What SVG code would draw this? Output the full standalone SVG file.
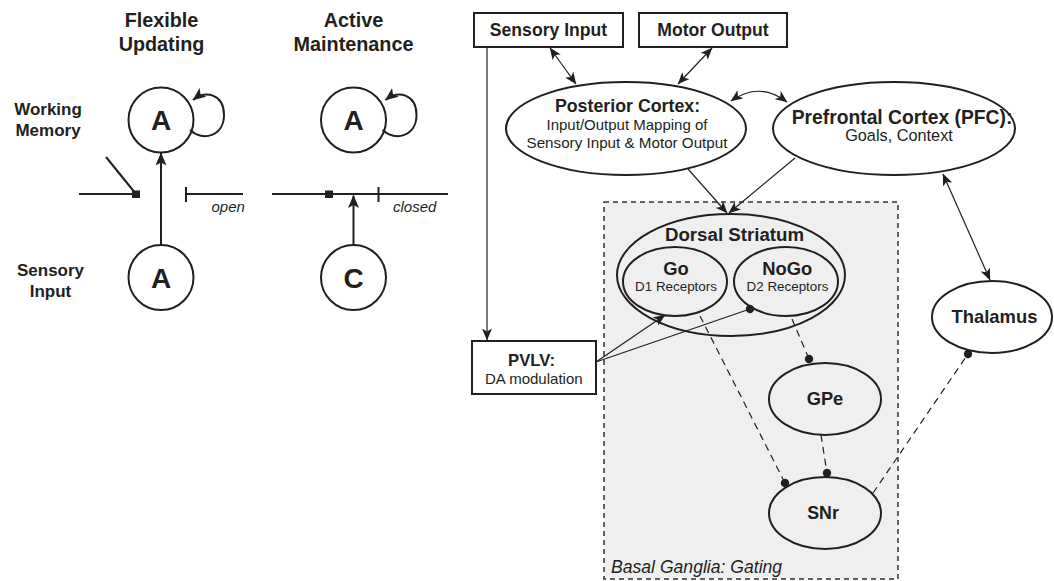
<svg xmlns="http://www.w3.org/2000/svg" width="1054" height="581" viewBox="0 0 1054 581">
<style>
  text { font-family: "Liberation Sans", Arial, Helvetica, sans-serif; fill: #231f20; }
  .title { font-size: 19.8px; font-weight: bold; text-anchor: middle; }
  .side { font-size: 17px; font-weight: bold; text-anchor: middle; }
  .letter { font-size: 28px; font-weight: bold; text-anchor: middle; }
  .gate { font-size: 15px; font-style: italic; }
  .hd { font-size: 17.6px; font-weight: bold; text-anchor: middle; }
  .sub { font-size: 15px; text-anchor: middle; }
  .small { font-size: 13.4px; text-anchor: middle; }
  .node { fill: #ffffff; stroke: #231f20; stroke-width: 2; }
  .inner { fill: none; stroke: #231f20; stroke-width: 2; }
  .lp { fill: none; stroke: #231f20; stroke-width: 2; }
  .cn { fill: none; stroke: #231f20; stroke-width: 1.2; }
  .dash { fill: none; stroke: #231f20; stroke-width: 1.2; stroke-dasharray: 7 5; }
  .bgbox { fill: #efefef; stroke: #333333; stroke-width: 1.5; stroke-dasharray: 5 4; }
</style>
<defs>
  <marker id="arr" markerUnits="userSpaceOnUse" markerWidth="12" markerHeight="10" refX="11.5" refY="5" orient="auto-start-reverse">
    <path d="M0,0 L12,5 L0,10 L3,5 z" fill="#231f20"/>
  </marker>
  <marker id="arrL" markerUnits="userSpaceOnUse" markerWidth="13" markerHeight="11" refX="12.5" refY="5.5" orient="auto">
    <path d="M0,0 L13,5.5 L0,11 L3,5.5 z" fill="#231f20"/>
  </marker>
  <marker id="dot" markerUnits="userSpaceOnUse" markerWidth="10" markerHeight="10" refX="5" refY="5" orient="auto">
    <circle cx="5" cy="5" r="4.2" fill="#231f20"/>
  </marker>
</defs>
<rect x="0" y="0" width="1054" height="581" fill="#ffffff"/>

<!-- Left panel -->
<g id="title-flexible">
  <text class="title" x="161.5" y="27">Flexible</text>
  <text class="title" x="161.5" y="51">Updating</text>
</g>
<g id="title-active">
  <text class="title" x="353.5" y="27">Active</text>
  <text class="title" x="353.5" y="51">Maintenance</text>
</g>
<g id="label-working-memory">
  <text class="side" x="48" y="115">Working</text>
  <text class="side" x="48" y="136">Memory</text>
</g>
<g id="label-sensory-input">
  <text class="side" x="50.5" y="276">Sensory</text>
  <text class="side" x="50.5" y="297">Input</text>
</g>
<g id="flex-wm-A">
  <circle class="node" cx="161" cy="120" r="32.5"/>
  <text class="letter" x="161" y="130">A</text>
  <path class="lp" d="M190,130 C203,142 224,136 224,115 C224,94 206,90 193,100" marker-end="url(#arrL)"/>
</g>
<g id="flex-in-A">
  <circle class="node" cx="161" cy="277.5" r="32.5"/>
  <text class="letter" x="161" y="287.5">A</text>
</g>
<g id="active-wm-A">
  <circle class="node" cx="353.5" cy="120" r="32.5"/>
  <text class="letter" x="353.5" y="130">A</text>
  <path class="lp" d="M382.5,130 C395.5,142 416.5,136 416.5,115 C416.5,94 398.5,90 385.5,100" marker-end="url(#arrL)"/>
</g>
<g id="active-in-C">
  <circle class="node" cx="353.5" cy="277.5" r="32.5"/>
  <text class="letter" x="353.5" y="287.5">C</text>
</g>
<g id="gate-open">
  <line class="lp" x1="79" y1="194" x2="136" y2="194"/>
  <line class="lp" x1="106" y1="157" x2="136" y2="194"/>
  <rect x="132" y="190.5" width="8" height="7.5" fill="#231f20"/>
  <line class="lp" x1="186" y1="187" x2="186" y2="202"/>
  <line class="lp" x1="186" y1="194" x2="243" y2="194"/>
  <text class="gate" x="211.5" y="212">open</text>
</g>
<g id="gate-closed">
  <line class="lp" x1="272" y1="194" x2="448" y2="194"/>
  <rect x="325" y="190.5" width="8" height="7.5" fill="#231f20"/>
  <line class="lp" x1="378.5" y1="187" x2="378.5" y2="202"/>
  <text class="gate" x="393" y="212">closed</text>
</g>
<g id="left-connectors">
  <line class="lp" x1="161" y1="245" x2="161" y2="153" marker-end="url(#arrL)"/>
  <line class="lp" x1="353.5" y1="245" x2="353.5" y2="195.5" marker-end="url(#arrL)"/>
</g>

<!-- Right panel -->
<g id="basal-ganglia">
  <rect class="bgbox" x="604" y="202" width="294" height="377"/>
  <text class="gate" style="font-size:17.6px" x="611" y="573">Basal Ganglia: Gating</text>
</g>
<g id="sensory-input">
  <rect class="node" x="474" y="13" width="149" height="34"/>
  <text class="hd" x="548.5" y="35.5">Sensory Input</text>
</g>
<g id="motor-output">
  <rect class="node" x="639" y="13" width="148" height="34"/>
  <text class="hd" x="713" y="35.5">Motor Output</text>
</g>
<g id="posterior-cortex">
  <ellipse class="node" cx="626" cy="128.5" rx="120" ry="46.5"/>
  <text class="hd" style="font-size:17.8px" x="627.5" y="112">Posterior Cortex:</text>
  <text class="sub" x="627" y="130">Input/Output Mapping of</text>
  <text class="sub" style="font-size:15.2px" x="627" y="148">Sensory Input &amp; Motor Output</text>
</g>
<g id="pfc">
  <ellipse class="node" cx="894" cy="128.5" rx="121" ry="46.5"/>
  <text class="hd" style="font-size:19.3px" x="902" y="124">Prefrontal Cortex (PFC):</text>
  <text class="sub" style="font-size:16.3px" x="899" y="141">Goals, Context</text>
</g>
<g id="dorsal-striatum">
  <ellipse class="inner" cx="731" cy="275" rx="114" ry="61"/>
  <text class="hd" style="font-size:18.7px" x="734.5" y="240.5">Dorsal Striatum</text>
</g>
<g id="go">
  <ellipse class="inner" cx="675" cy="281.5" rx="52" ry="34.5"/>
  <text class="hd" style="font-size:18.4px" x="676" y="275">Go</text>
  <text class="small" x="676" y="291">D1 Receptors</text>
</g>
<g id="nogo">
  <ellipse class="inner" cx="786" cy="281.5" rx="52" ry="34.5"/>
  <text class="hd" style="font-size:18.4px" x="787.3" y="275">NoGo</text>
  <text class="small" x="787.5" y="291">D2 Receptors</text>
</g>
<g id="gpe">
  <ellipse class="inner" cx="825" cy="399" rx="56" ry="36"/>
  <text class="hd" style="font-size:18.3px" x="825" y="405">GPe</text>
</g>
<g id="snr">
  <ellipse class="inner" cx="825" cy="513" rx="56" ry="36"/>
  <text class="hd" style="font-size:17.8px" x="823" y="519">SNr</text>
</g>
<g id="thalamus">
  <ellipse class="node" cx="992" cy="317" rx="60" ry="36"/>
  <text class="hd" style="font-size:18.4px" x="994.5" y="323">Thalamus</text>
</g>
<g id="pvlv">
  <rect class="node" x="472" y="341" width="124" height="53"/>
  <text class="hd" style="font-size:16.7px" x="531.5" y="366">PVLV:</text>
  <text class="sub" x="533.8" y="384">DA modulation</text>
</g>

<g id="connectors">
  <line class="cn" x1="487" y1="47" x2="487" y2="340" marker-end="url(#arr)"/>
  <line class="cn" x1="550" y1="48" x2="576" y2="84" marker-start="url(#arr)" marker-end="url(#arr)"/>
  <line class="cn" x1="712" y1="48" x2="678" y2="84" marker-start="url(#arr)" marker-end="url(#arr)"/>
  <path class="cn" d="M731,101 Q759,81 787,102" marker-start="url(#arr)" marker-end="url(#arr)"/>
  <line class="cn" x1="688" y1="169" x2="727" y2="213" marker-end="url(#arr)"/>
  <line class="cn" x1="795" y1="158" x2="729" y2="213" marker-end="url(#arr)"/>
  <line class="cn" x1="943" y1="174" x2="990" y2="280" marker-start="url(#arr)" marker-end="url(#arr)"/>
  <line class="cn" x1="596" y1="362" x2="665" y2="315" marker-end="url(#arr)"/>
  <line class="cn" x1="596" y1="362" x2="750" y2="309" marker-end="url(#dot)"/>
  <line class="dash" x1="700" y1="316" x2="785" y2="483" marker-end="url(#dot)"/>
  <line class="dash" x1="792" y1="319" x2="809" y2="359" marker-end="url(#dot)"/>
  <line class="dash" x1="821" y1="435" x2="827" y2="473" marker-end="url(#dot)"/>
  <line class="dash" x1="873" y1="493" x2="968" y2="354" marker-end="url(#dot)"/>
</g>
</svg>
